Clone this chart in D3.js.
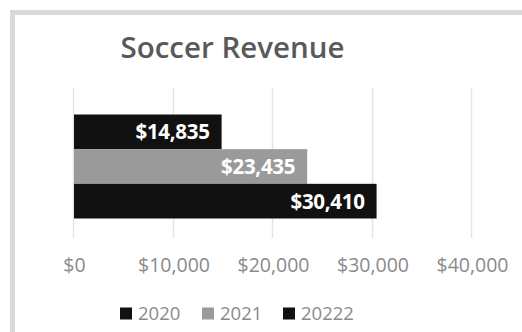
<!DOCTYPE html>
<html>
<head>
<meta charset="utf-8">
<script src="https://cdn.jsdelivr.net/npm/d3@7"></script>
<style>
  html, body { margin: 0; padding: 0; background: #ffffff; }
  svg { display: block; }
</style>
</head>
<body>
<div id="chart"></div>
<script>
// Chart data
const title = "Soccer Revenue";
const seriesNames = ["2020", "2021", "20222"];
const seriesValues = [14835, 23435, 30410];
const seriesColors = ["#111111", "#9a9a9a", "#111111"];
const tickValues = [0, 10000, 20000, 30000, 40000];

const W = 522, H = 332;
const svg = d3.select("#chart").append("svg")
  .attr("width", W).attr("height", H);

// Outer frame
svg.append("rect")
  .attr("x", 12.5).attr("y", 12.5)
  .attr("width", W + 20).attr("height", H + 20)
  .attr("fill", "#ffffff")
  .attr("stroke", "#d9d9d9").attr("stroke-width", 5);

const x = d3.scaleLinear().domain([0, 40000]).range([74, 472]);
const y = d3.scaleBand().domain(seriesNames).range([114.5, 218.5]).padding(0);

const fmt = v => "$" + d3.format(",")(v);

// Gridlines
svg.append("g").selectAll("line")
  .data(tickValues).join("line")
  .attr("x1", d => Math.round(x(d)) - 0.5).attr("x2", d => Math.round(x(d)) - 0.5)
  .attr("y1", 88).attr("y2", 238)
  .attr("stroke", "#e4e4e4").attr("stroke-width", 1.5);

// Bars
svg.append("g").selectAll("rect")
  .data(seriesNames).join("rect")
  .attr("x", x(0))
  .attr("y", d => y(d))
  .attr("width", (d, i) => x(seriesValues[i]) - x(0))
  .attr("height", y.bandwidth())
  .attr("fill", (d, i) => seriesColors[i]);

// Value labels inside bar ends
svg.append("g").selectAll("text")
  .data(seriesNames).join("text")
  .attr("x", (d, i) => x(seriesValues[i]) - 12)
  .attr("y", d => y(d) + y.bandwidth() / 2 + 7.5)
  .attr("text-anchor", "end")
  .attr("font-family", "'Open Sans', sans-serif")
  .attr("font-weight", 700)
  .attr("font-size", 20.5)
  .attr("letter-spacing", -0.3)
  .attr("fill", "#ffffff")
  .text((d, i) => fmt(seriesValues[i]));

// Axis tick labels
const axis = d3.axisBottom(x).tickValues(tickValues).tickFormat(fmt).tickSize(0).tickPadding(0);
const gAxis = svg.append("g").attr("transform", "translate(0,257)").call(axis);
gAxis.select(".domain").remove();
gAxis.selectAll("text")
  .attr("font-family", "'Open Sans', sans-serif")
  .attr("font-size", 19.5)
  .attr("fill", "#8a8a8a")
  .attr("dy", "0.75em");

// Title
svg.append("text")
  .attr("x", 232.5).attr("y", 58)
  .attr("text-anchor", "middle")
  .attr("font-family", "'Open Sans', sans-serif")
  .attr("font-weight", 600)
  .attr("font-size", 29.5)
  .attr("fill", "#595959")
  .text(title);

// Legend
const legendX = [120, 202, 283];
const lg = svg.append("g").selectAll("g")
  .data(seriesNames).join("g")
  .attr("transform", (d, i) => `translate(${legendX[i]},0)`);
lg.append("rect")
  .attr("x", 0).attr("y", 307.5).attr("width", 12).attr("height", 12)
  .attr("fill", (d, i) => seriesColors[i]);
lg.append("text")
  .attr("x", 18).attr("y", 320)
  .attr("font-family", "'Open Sans', sans-serif")
  .attr("font-size", 18.5)
  .attr("fill", "#8a8a8a")
  .text(d => d);
</script>
</body>
</html>
